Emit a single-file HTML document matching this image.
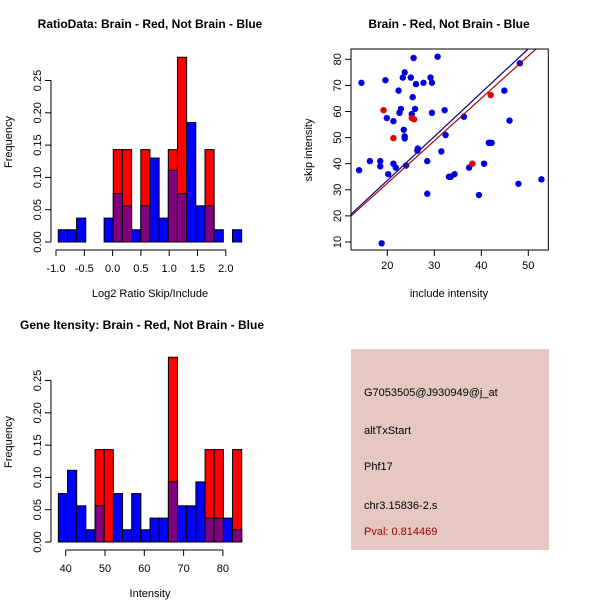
<!DOCTYPE html>
<html><head><meta charset="utf-8"><style>
body{margin:0;background:#fff;}
svg{display:block;font-family:"Liberation Sans",sans-serif;}
</style></head><body>
<svg id="c" width="600" height="600" xmlns="http://www.w3.org/2000/svg">
<rect width="600" height="600" fill="#fff"/>
<text x="150" y="28" font-size="12" font-weight="bold" text-anchor="middle">RatioData: Brain - Red, Not Brain - Blue</text>
<text x="449" y="28" font-size="12" font-weight="bold" text-anchor="middle">Brain - Red, Not Brain - Blue</text>
<text x="142" y="329" font-size="12" font-weight="bold" text-anchor="middle">Gene Itensity: Brain - Red, Not Brain - Blue</text>
<g id="h1"></g>
<g id="h2"></g>
<g id="sc"></g>
<rect x="351" y="349" width="198" height="201" fill="#e6c8c2"/>
<g font-size="11">
<text x="364" y="396">G7053505@J930949@j_at</text>
<text x="364" y="434">altTxStart</text>
<text x="364" y="470">Phf17</text>
<text x="364" y="509">chr3.15836-2.s</text>
<text x="364" y="535" fill="#a00000">Pval: 0.814469</text>
</g>
</svg>
<script>
const ratioBinStart = -0.96, ratioBinWidth = 0.162;
const ratioBlue = [0.019,0.019,0.037,0,0,0.037,0.075,0.056,0.019,0.056,0.13,0.037,0.111,0.075,0.185,0.056,0.056,0.019,0,0.019];
const ratioRed  = [0,0,0,0,0,0,0.143,0.143,0,0.143,0,0,0.143,0.286,0,0,0.143,0,0,0];
const ratioXTicks = [-1.0,-0.5,0.0,0.5,1.0,1.5,2.0];
const intBinStart = 38.13, intBinWidth = 2.333;
const intBlue = [0.075,0.111,0.056,0.019,0.056,0,0.075,0.019,0.075,0.019,0.037,0.037,0.093,0.056,0.056,0.093,0.037,0.037,0.037,0.019];
const intRed  = [0,0,0,0,0.143,0.143,0,0,0,0,0,0,0.286,0,0,0,0.143,0.143,0,0.143];
const intXTicks = [40,50,60,70,80];
const freqTicks = [0.00,0.05,0.10,0.15,0.20,0.25];
const blueX = [14,14.5,16.3,18.5,18.5,18.8,19.6,19.9,20.2,21.3,21.3,21.8,22.4,22.6,22.9,23.3,23.5,23.7,23.7,23.7,24,25,25.2,25.4,25.6,25.9,26.1,26.5,26.4,27.7,28.5,28.5,29.2,29.5,29.5,30.7,31.5,32.2,32.4,33.1,33.5,34.3,36.3,37.4,39.5,40.6,41.6,41.9,42.2,44.9,46,47.9,48.2,52.8];
const blueY = [37.5,71,41,41,39,9.5,72,57.5,36,56.3,40,38.5,68,59.5,61,73,53,75,50.5,49.7,39.3,73,59,65.5,80.5,61,70.5,45.8,45,71,41,28.5,73,59.5,71,81,44.7,60.5,51,35,35,36,58,38.5,28,40,48,48,48,68,56.5,32.3,78.5,34];
const redX = [19.2,21.3,25.2,25.7,38.1,42];
const redY = [60.5,49.8,57.5,57,40,66.3];
const fitSlopes = [1.68,1.626];
const fitColors = ['#00008b','#b00000'];
const scXTicks = [20,30,40,50];
const scYTicks = [10,20,30,40,50,60,70,80];

const NS='http://www.w3.org/2000/svg';
function mk(p,tag,at){const e=document.createElementNS(NS,tag);for(const k in at)e.setAttribute(k,at[k]);p.appendChild(e);return e;}

function hist(g,top,start,w,blue,red,xticks,xlab,xToPx){
  const y0=top+202, yPer=32.3/0.05;
  const yPx=v=>y0-v*yPer;
  for(let i=0;i<blue.length;i++){
    const x1=xToPx(start+i*w), x2=xToPx(start+(i+1)*w);
    const b=blue[i], r=red[i];
    const hi=Math.max(b,r), lo=Math.min(b,r);
    if(hi>0){
      const r1=mk(g,'rect',{x:x1,y:yPx(hi),width:x2-x1,height:yPx(0)-yPx(hi),fill:r>b?'#ff0000':'#0000ff',stroke:'#000','stroke-width':1});
      
      
    }
    if(lo>0){
      const r2=mk(g,'rect',{x:x1,y:yPx(lo),width:x2-x1,height:yPx(0)-yPx(lo),fill:'#800080',stroke:'#000','stroke-width':1});
      
      
    }
  }
  const ax=mk(g,'line',{x1:51,x2:51,y1:yPx(0),y2:yPx(0.25),stroke:'#000'});
  
  
  freqTicks.forEach(t=>{
    mk(g,'line',{x1:45,x2:51,y1:yPx(t),y2:yPx(t),stroke:'#000'});
    const tx=mk(g,'text',{x:0,y:0,'font-size':11,'text-anchor':'middle',transform:`translate(41,${yPx(t)}) rotate(-90)`});
    tx.textContent=t.toFixed(2);
    
    
  });
  const bx=mk(g,'line',{x1:xToPx(xticks[0]),x2:xToPx(xticks[xticks.length-1]),y1:top+210,y2:top+210,stroke:'#000'});
  
  
  xticks.forEach(t=>{
    mk(g,'line',{x1:xToPx(t),x2:xToPx(t),y1:top+210,y2:top+216,stroke:'#000'});
    const tx=mk(g,'text',{x:xToPx(t),y:top+232,'font-size':11,'text-anchor':'middle'});
    tx.textContent=Number.isInteger(t)&&Math.abs(t)>=10?t:t.toFixed(1);
    
    
  });
  const xl=mk(g,'text',{x:150,y:top+257,'font-size':11,'text-anchor':'middle'});
  xl.textContent=xlab;
  
  
  const yl=mk(g,'text',{x:0,y:0,'font-size':11,'text-anchor':'middle',transform:`translate(12,${top+102}) rotate(-90)`});
  yl.textContent='Frequency';
  
  
}
hist(document.getElementById('h1'),40,ratioBinStart,ratioBinWidth,ratioBlue,ratioRed,ratioXTicks,'Log2 Ratio Skip/Include',v=>56+(v+1)*56.6);
hist(document.getElementById('h2'),340,intBinStart,intBinWidth,intBlue,intRed,intXTicks,'Intensity',v=>65.7+(v-40)*3.93);

(function(){
  const g=document.getElementById('sc');
  const L=351,R=548.3,T=49,B=250;
  const xp=v=>387.3+(v-20)*4.7, yp=v=>59.3-(v-80)*2.61;
  const cp=mk(g,'clipPath',{id:'scclip'});mk(cp,'rect',{x:L,y:T,width:R-L,height:B-T});
  blueX.forEach((x,i)=>{
    const c=mk(g,'circle',{cx:xp(x),cy:yp(blueY[i]),r:3.2,fill:'#0000e0'});
    
    
  });
  redX.forEach((x,i)=>{
    const c=mk(g,'circle',{cx:xp(x),cy:yp(redY[i]),r:3.2,fill:'#e00000'});
    
    
  });
  fitSlopes.forEach((s,i)=>{
    const l=mk(g,'line',{x1:xp(0),y1:yp(0),x2:xp(60),y2:yp(60*s),stroke:fitColors[i],'stroke-width':1.2,'clip-path':'url(#scclip)'});
    
    
  });
  const box=mk(g,'rect',{x:L,y:T,width:R-L,height:B-T,fill:'none',stroke:'#000'});
  
  
  scXTicks.forEach(t=>{
    mk(g,'line',{x1:xp(t),x2:xp(t),y1:B,y2:B+6,stroke:'#000'});
    const tx=mk(g,'text',{x:xp(t),y:B+19,'font-size':11,'text-anchor':'middle'});
    tx.textContent=t;
    
    
  });
  scYTicks.forEach(t=>{
    mk(g,'line',{x1:L-6,x2:L,y1:yp(t),y2:yp(t),stroke:'#000'});
    const tx=mk(g,'text',{x:0,y:0,'font-size':11,'text-anchor':'middle',transform:`translate(341,${yp(t)}) rotate(-90)`});
    tx.textContent=t;
    
    
  });
  const xl=mk(g,'text',{x:449,y:297,'font-size':11,'text-anchor':'middle'});
  xl.textContent='include intensity';
  
  
  const yl=mk(g,'text',{x:0,y:0,'font-size':11,'text-anchor':'middle',transform:'translate(312,150) rotate(-90)'});
  yl.textContent='skip intensity';
  
  
})();
</script>
</body></html>
